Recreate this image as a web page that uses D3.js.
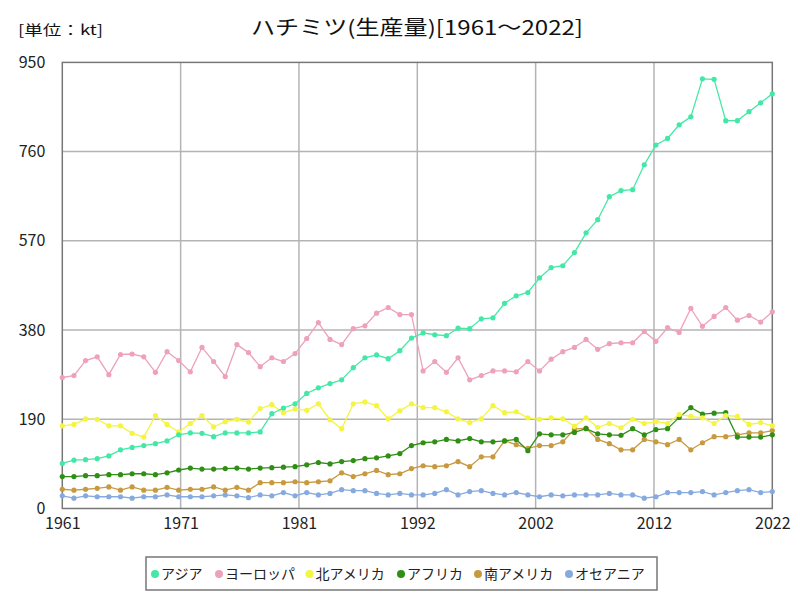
<!DOCTYPE html>
<html><head><meta charset="utf-8">
<script src="https://cdn.jsdelivr.net/npm/d3@7"></script>
<style>
body{margin:0;background:#fff;}
text{font-family:"Noto Sans CJK JP","Noto Sans",sans-serif;}
</style></head>
<body><svg id="c" width="800" height="600"></svg>
<script>
const years = d3.range(1961, 2023);
const xTickLabels = ["1961","1971","1981","1992","2002","2012","2022"];
const yTicks = [0,190,380,570,760,950];
const seriesNames = ["アジア","ヨーロッパ","北アメリカ","アフリカ","南アメリカ","オセアニア"];
const seriesColors = ["#44e8a6","#eea2ba","#f4f442","#2f8f14","#c89a40","#86aae0"];
const asia = [96,103,104,106,112,125,130,134,138,144,157,161,160,153,161,161,161,163,202,214,223,245,257,266,274,300,321,327,319,336,363,374,370,368,384,383,404,406,437,453,460,491,513,517,545,587,615,664,677,679,732,774,788,817,834,915,914,826,826,845,864,883];
const europe = [279,283,315,323,285,328,329,323,290,334,315,291,343,313,281,349,332,302,321,313,330,362,396,360,349,383,389,416,428,413,413,293,313,290,321,274,283,293,293,291,313,293,318,334,343,360,339,351,353,353,377,356,385,375,426,388,409,428,401,411,397,419];
const northAmerica = [176,179,191,190,176,176,160,152,198,179,163,181,198,174,185,190,184,213,221,204,212,209,223,189,170,223,227,219,191,208,223,215,215,206,191,183,191,219,204,206,193,190,193,191,175,193,173,181,172,190,181,185,181,200,196,193,181,198,196,179,183,176];
const africa = [68,68,70,70,72,72,74,74,72,76,82,86,84,84,85,86,84,86,87,88,89,93,98,95,100,102,106,108,112,117,134,140,142,147,144,149,142,142,144,147,123,159,157,157,162,170,159,157,156,170,157,168,170,194,215,201,203,204,152,152,152,157];
const southAmerica = [41,39,41,43,46,39,46,39,39,45,39,41,41,46,39,45,39,55,55,55,57,55,57,59,76,68,74,81,72,74,85,91,89,91,100,89,110,110,144,136,128,134,134,142,169,171,147,138,125,125,147,142,136,147,125,140,153,153,157,161,161,166];
const oceania = [27,22,27,25,25,25,22,25,25,29,25,25,25,27,29,27,23,29,27,34,27,34,29,32,40,38,38,32,29,32,29,29,32,40,29,36,38,32,29,34,29,25,29,27,29,29,29,32,29,29,22,25,34,34,34,36,29,34,38,40,34,36];
const seriesValues = [asia, europe, northAmerica, africa, southAmerica, oceania];

const svg = d3.select("#c");
const L=62.3, R=772.3, T=62.4, B=508.5;
const x = d3.scaleLinear().domain([1961,2022]).range([L,R]);
const y = d3.scaleLinear().domain([0,950]).range([B,T]);
const xTickPos = d3.range(7).map(k => 1961 + 61*k/6);

// grid
svg.append("g").selectAll("line.v").data(xTickPos.slice(1,-1)).join("line")
  .attr("x1",d=>x(d)).attr("x2",d=>x(d)).attr("y1",T).attr("y2",B)
  .attr("stroke","#b4b4b4").attr("stroke-width",1.5);
svg.append("g").selectAll("line.h").data(yTicks.slice(1,-1)).join("line")
  .attr("x1",L).attr("x2",R).attr("y1",d=>y(d)).attr("y2",d=>y(d))
  .attr("stroke","#b4b4b4").attr("stroke-width",1.5);
svg.append("rect").attr("x",L).attr("y",T).attr("width",R-L).attr("height",B-T)
  .attr("fill","none").attr("stroke","#777").attr("stroke-width",1.5);

// axes labels
const xAxis = d3.axisBottom(x).tickValues(xTickPos).tickFormat((d,i)=>xTickLabels[i]).tickSize(0).tickPadding(9);
const gx = svg.append("g").attr("transform",`translate(0,${B})`).call(xAxis);
gx.select(".domain").remove();
gx.selectAll("text").attr("font-size",16).attr("fill","#222");
const yAxis = d3.axisLeft(y).tickValues(yTicks).tickFormat(d3.format("d")).tickSize(0).tickPadding(17);
const gy = svg.append("g").attr("transform",`translate(${L},0)`).call(yAxis);
gy.select(".domain").remove();
gy.selectAll("text").attr("font-size",16).attr("fill","#222");

// series (draw from last to first so Asia on top)
const line = d3.line().x((d,i)=>x(years[i])).y(d=>y(d));
const order = [5,4,3,2,1,0];
order.forEach(s=>{
  const g = svg.append("g");
  g.append("path").datum(seriesValues[s]).attr("d",line)
    .attr("fill","none").attr("stroke",seriesColors[s]).attr("stroke-width",1.3);
  g.selectAll("circle").data(seriesValues[s]).join("circle")
    .attr("cx",(d,i)=>x(years[i])).attr("cy",d=>y(d)).attr("r",2.6)
    .attr("fill",seriesColors[s]);
});

// title
svg.append("text").attr("x",417).attr("y",35).attr("text-anchor","middle")
  .attr("font-size",20).attr("fill","#111").attr("textLength",332).attr("lengthAdjust","spacingAndGlyphs")
  .text("ハチミツ(生産量)[1961～2022]");
svg.append("text").attr("x",18).attr("y",35)
  .attr("font-size",14).attr("fill","#111").attr("textLength",85).attr("lengthAdjust","spacingAndGlyphs")
  .text("[単位：kt]");

// legend
svg.append("rect").attr("x",146).attr("y",557).attr("width",511).attr("height",33)
  .attr("fill","#fff").attr("stroke","#777").attr("stroke-width",1.5);
const legX = [155,219,309.5,401,478,569];
const lg = svg.append("g").selectAll("g").data(seriesNames).join("g")
  .attr("transform",(d,i)=>`translate(${legX[i]},574)`);
lg.append("circle").attr("r",4).attr("fill",(d,i)=>seriesColors[i]);
lg.append("text").attr("x",6).attr("y",5).attr("font-size",14).attr("fill","#222").text(d=>d);
</script></body></html>
